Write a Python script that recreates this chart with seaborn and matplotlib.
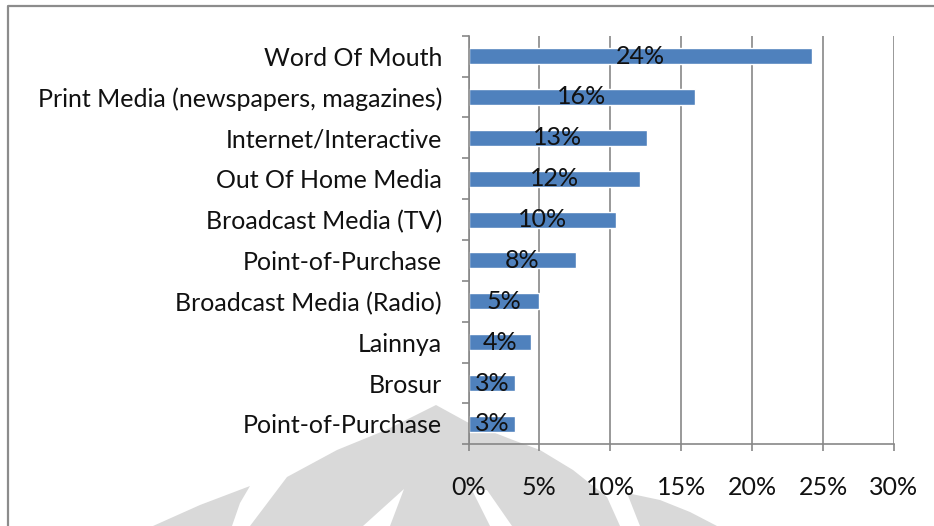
import matplotlib
matplotlib.use("Agg")
import matplotlib.pyplot as plt
from matplotlib.patches import Polygon
from matplotlib.lines import Line2D
from matplotlib.ticker import FixedLocator, PercentFormatter
from matplotlib.transforms import ScaledTranslation
import seaborn as sns
import pandas as pd

# Media channels, top to bottom, and their share of respondents
channels = [
    "Word Of Mouth",
    "Print Media (newspapers, magazines)",
    "Internet/Interactive",
    "Out Of Home Media",
    "Broadcast Media (TV)",
    "Point-of-Purchase",
    "Broadcast Media (Radio)",
    "Lainnya",
    "Brosur",
    "Point-of-Purchase",
]
shares = [0.242, 0.160, 0.126, 0.121, 0.104, 0.076, 0.050, 0.044, 0.033, 0.033]
x_ticks = [0.00, 0.05, 0.10, 0.15, 0.20, 0.25, 0.30]

BAR = "#4F81BD"
GRID = "#878787"
TEXT = "#111111"
FS = 18

sns.set_theme(style="white")
plt.rcParams["font.family"] = ["Lato", "DejaVu Sans"]

df = pd.DataFrame({"row": list(range(len(channels))), "share": shares})

W, H = 934, 526
fig = plt.figure(figsize=(W / 100, H / 100), dpi=100, facecolor="white")


def px(points):
    """Convert pixel coordinates (origin top-left) to figure fractions."""
    return [(x / W, 1 - y / H) for x, y in points]


# faint emblem in the lower part of the page
emblem_color = "#d9d9d9"
emblem = [
    # central flame
    [(250, 526), (287, 477), (337, 450), (386, 430), (436, 405), (467, 422),
     (513, 440), (540, 450), (573, 470), (607, 497), (620, 526)],
    # left wing
    [(153, 526), (200, 505), (250, 486), (240, 503), (232, 526)],
    # right wing
    [(627, 493), (660, 500), (690, 512), (717, 526), (640, 526)],
]
for pts in emblem:
    fig.add_artist(Polygon(px(pts), closed=True, transform=fig.transFigure,
                           facecolor=emblem_color, edgecolor="none", zorder=-2))
gaps = [
    [(363, 526), (390, 526), (404, 489)],
    [(472, 490), (487, 490), (512, 526), (490, 526)],
]
for pts in gaps:
    fig.add_artist(Polygon(px(pts), closed=True, transform=fig.transFigure,
                           facecolor="white", edgecolor="none", zorder=-1))

# chart frame (left and top edges)
fig.add_artist(Line2D([8 / W, 8 / W, 1.0], [0.0, 1 - 6 / H, 1 - 6 / H],
                      transform=fig.transFigure, color="#8c8c8c", lw=1.6))

ax = fig.add_axes([468.5 / W, 1 - 444.3 / H, (894 - 468.5) / W, (444.3 - 35.7) / H])
ax.set_facecolor("none")

sns.barplot(data=df, x="share", y="row", orient="h", color=BAR,
            saturation=1, width=0.39, ax=ax)

ax.set_xlim(0, 0.30)
ax.set_ylim(len(channels) - 0.5, -0.5)
ax.set_xlabel("")
ax.set_ylabel("")

ax.xaxis.set_major_locator(FixedLocator(x_ticks))
ax.xaxis.set_major_formatter(PercentFormatter(1.0, decimals=0))
ax.set_yticks(range(len(channels)))
ax.set_yticklabels(channels)
ax.yaxis.set_minor_locator(FixedLocator([i - 0.5 for i in range(len(channels) + 1)]))

ax.tick_params(axis="y", which="major", length=0, pad=19, labelsize=FS, labelcolor=TEXT)
ax.tick_params(axis="y", which="minor", length=5, width=1.2, color=GRID, direction="out", left=True)
ax.tick_params(axis="x", which="major", length=5, width=1.2, color=GRID, direction="out",
               bottom=True, pad=17.5, labelsize=FS, labelcolor=TEXT)

ax.set_axisbelow(True)
ax.xaxis.grid(True, color=GRID, lw=1.2)
ax.yaxis.grid(False)

for side in ("top", "right"):
    ax.spines[side].set_visible(False)
for side in ("left", "bottom"):
    ax.spines[side].set_color(GRID)
    ax.spines[side].set_linewidth(1.2)

value_labels = ax.bar_label(ax.containers[0], labels=[f"{v:.0%}" for v in shares],
                            label_type="center", fontsize=FS, color=TEXT)
# nudge the value labels a touch below the bar centre
nudge = ScaledTranslation(0, -2 / 100, fig.dpi_scale_trans)
for t in value_labels:
    t.set_transform(t.get_transform() + nudge)

fig.savefig("out.png", dpi=100)
